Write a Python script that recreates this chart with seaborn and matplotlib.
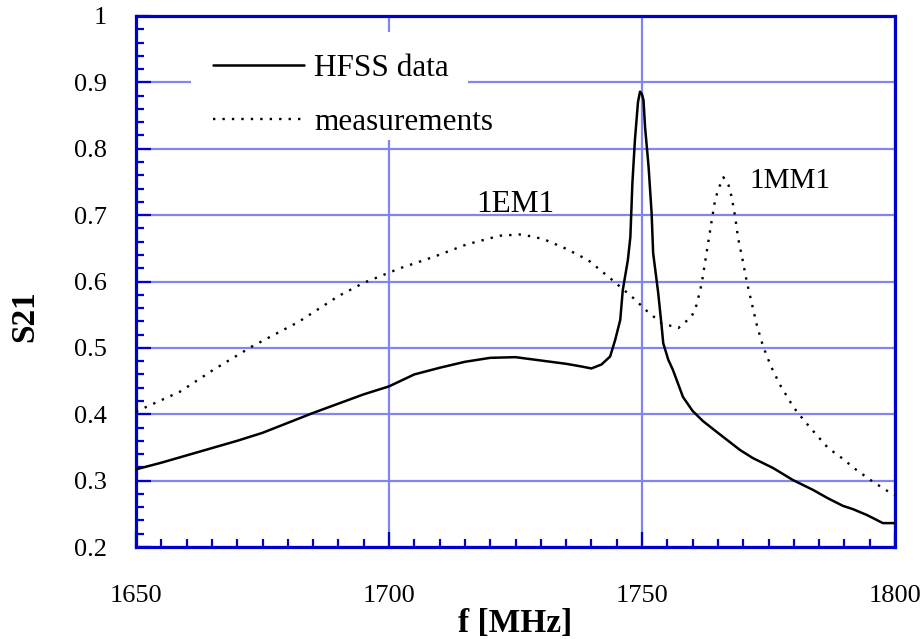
import matplotlib
matplotlib.use("Agg")
import matplotlib.pyplot as plt
from matplotlib.patches import Rectangle
from matplotlib.ticker import MultipleLocator, FixedLocator, FixedFormatter
import pandas as pd
import seaborn as sns

# Simulated transmission (HFSS)
hfss_f = [1650, 1655, 1660, 1665, 1670, 1675, 1680, 1685, 1690, 1695, 1700,
          1705, 1710, 1715, 1720, 1725, 1730, 1735, 1738, 1740, 1742, 1743.7,
          1744.7, 1745.7, 1746.2, 1747.2, 1747.7, 1748.1, 1748.6, 1749.2,
          1749.6, 1750.0, 1750.3, 1750.6, 1751.3, 1751.9, 1752.2, 1753.2,
          1753.9, 1754.2, 1755.2, 1756.1, 1758.1, 1760, 1762, 1765, 1769.4,
          1771.9, 1775.9, 1779.8, 1783.8, 1786.6, 1789.7, 1791.7, 1794.5,
          1797.6, 1800]
hfss_s21 = [0.317, 0.327, 0.338, 0.349, 0.360, 0.372, 0.387, 0.402, 0.416,
            0.430, 0.442, 0.460, 0.470, 0.479, 0.485, 0.486, 0.481, 0.476,
            0.472, 0.469, 0.475, 0.487, 0.512, 0.542, 0.587, 0.632, 0.667,
            0.748, 0.813, 0.870, 0.886, 0.882, 0.873, 0.833, 0.773, 0.703,
            0.643, 0.583, 0.531, 0.507, 0.482, 0.467, 0.426, 0.405, 0.390,
            0.372, 0.346, 0.334, 0.319, 0.301, 0.286, 0.274, 0.262, 0.257,
            0.248, 0.236, 0.236]

# Measured transmission
meas_f = [1650, 1658.7, 1665.3, 1672.9, 1677.1, 1682.1, 1690, 1695, 1702.2,
          1708.8, 1715.4, 1721.9, 1726.2, 1730.5, 1735.1, 1739.4, 1743.7,
          1748.3, 1750.9, 1753.9, 1757.2, 1759.8, 1760.8, 1761.8, 1762.8,
          1763.8, 1764.5, 1765.3, 1766.1, 1767.1, 1767.7, 1768.4, 1769.0,
          1769.9, 1770.7, 1771.7, 1772.7, 1773.9, 1775.5, 1777.3, 1779.9,
          1782.1, 1784.7, 1786.8, 1789.5, 1792.4, 1795.7, 1799.0, 1800]
meas_s21 = [0.404, 0.434, 0.467, 0.502, 0.519, 0.539, 0.578, 0.598, 0.620,
            0.637, 0.656, 0.669, 0.671, 0.664, 0.649, 0.632, 0.605, 0.575,
            0.556, 0.537, 0.530, 0.547, 0.565, 0.597, 0.645, 0.693, 0.725,
            0.743, 0.757, 0.745, 0.728, 0.698, 0.665, 0.632, 0.600, 0.567,
            0.534, 0.503, 0.472, 0.444, 0.411, 0.390, 0.367, 0.349, 0.334,
            0.316, 0.298, 0.282, 0.278]

x_ticks = [1650, 1700, 1750, 1800]
x_ticklabels = ["1650", "1700", "1750", "1800"]
y_ticks = [0.2, 0.3, 0.4, 0.5, 0.6, 0.7, 0.8, 0.9, 1.0]
y_ticklabels = ["0.2", "0.3", "0.4", "0.5", "0.6", "0.7", "0.8", "0.9", "1"]

hfss = pd.DataFrame({"f": hfss_f, "S21": hfss_s21})
meas = pd.DataFrame({"f": meas_f, "S21": meas_s21})

sns.set_theme(style="white")
plt.rcParams["font.family"] = ["Liberation Serif", "DejaVu Serif"]
plt.rcParams["text.color"] = "black"
plt.rcParams["axes.labelcolor"] = "black"

axis_blue = "#0000cc"
grid_blue = "#8484f0"

fig = plt.figure(figsize=(9.24, 6.39), dpi=100)
ax = fig.add_axes([136 / 924, 1 - 547 / 639, (895 - 136) / 924, (547 - 16) / 639])

sns.lineplot(data=hfss, x="f", y="S21", ax=ax, color="black", lw=1.8,
             label="HFSS data", estimator=None, sort=False, zorder=3)
sns.lineplot(data=meas, x="f", y="S21", ax=ax, color="black", lw=1.7,
             linestyle=(0, (1, 3)), label="measurements", estimator=None,
             sort=False, zorder=3)

ax.set_xlim(1650, 1800)
ax.set_ylim(0.2, 1.0)
ax.xaxis.set_major_locator(FixedLocator(x_ticks))
ax.xaxis.set_major_formatter(FixedFormatter(x_ticklabels))
ax.yaxis.set_major_locator(FixedLocator(y_ticks))
ax.yaxis.set_major_formatter(FixedFormatter(y_ticklabels))
ax.xaxis.set_minor_locator(MultipleLocator(5))
ax.yaxis.set_minor_locator(MultipleLocator(0.02))

ax.grid(True, which="major", color=grid_blue, lw=1.6, zorder=1)
ax.set_axisbelow(True)
for sp in ax.spines.values():
    sp.set_color(axis_blue)
    sp.set_linewidth(2.3)
    sp.set_visible(True)

ax.tick_params(which="both", direction="in", color=axis_blue, width=1.6,
               top=False, right=False, bottom=True, left=True,
               labelsize=19, labelcolor="black")
ax.tick_params(which="major", length=11)
ax.tick_params(axis="x", which="major", pad=27)
ax.tick_params(axis="y", which="major", pad=21)
ax.tick_params(which="minor", length=6)

ax.set_xlabel("f [MHz]", fontsize=24, fontweight="bold", color="black", labelpad=1)
ax.set_ylabel("S21", fontsize=24, fontweight="bold", color="black")
ax.yaxis.set_label_coords(-0.126, 0.435)

ax.text(1724.9, 0.705, "1EM1", fontsize=22.5, ha="center", va="baseline",
        color="black")
ax.text(1771.3, 0.741, "1MM1", fontsize=21, ha="left", va="baseline",
        color="black")

# white backing behind the legend entries (hides the grid there)
ax.add_patch(Rectangle((0.0725, 0.7665), 0.3649, 0.2034, transform=ax.transAxes,
                       facecolor="white", edgecolor="none", zorder=2))

leg = ax.legend(loc="upper left", bbox_to_anchor=(0.0725, 0.970),
                frameon=False, fontsize=22.5, handlelength=2.9,
                handletextpad=0.35, borderpad=0.7, labelspacing=0.8,
                borderaxespad=0, labelcolor="black")
leg.set_zorder(5)

fig.savefig("out.png", dpi=100, facecolor="white")
